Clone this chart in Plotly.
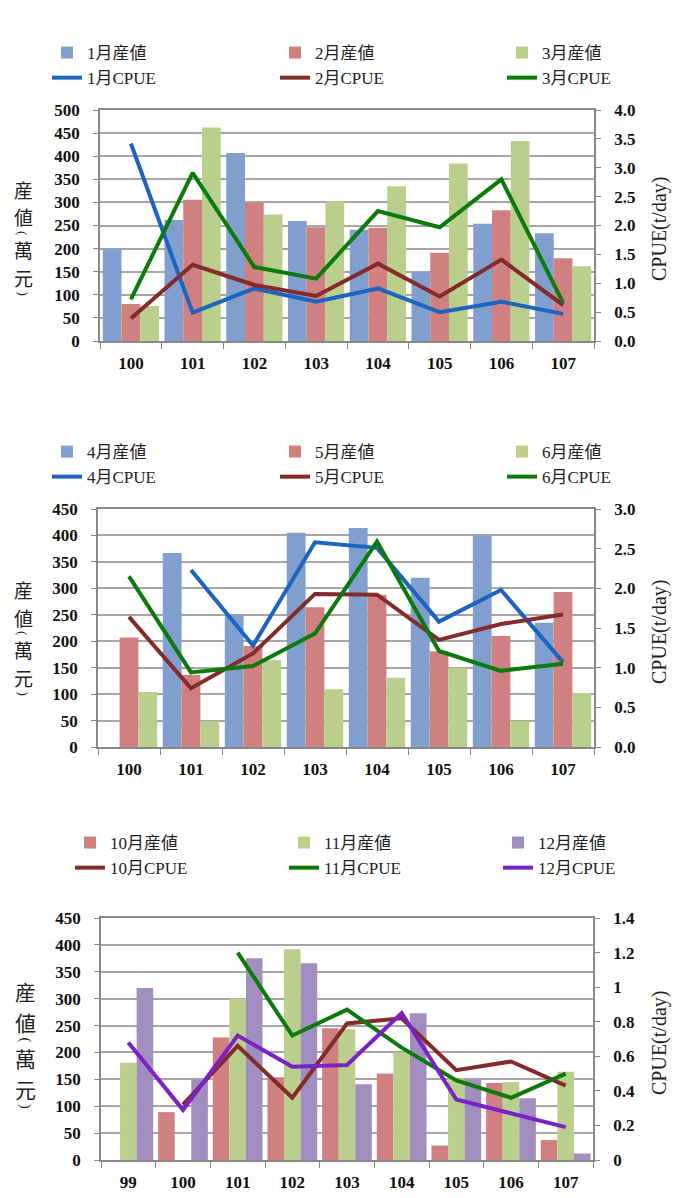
import plotly.graph_objects as go

# ---------------- data ----------------
years_a = ['100', '101', '102', '103', '104', '105', '106', '107']
years_c = ['99', '100', '101', '102', '103', '104', '105', '106', '107']

rev_jan = [200, 262, 407, 260, 241, 150, 254, 233]
rev_feb = [80, 306, 300, 246, 245, 191, 283, 179]
rev_mar = [76, 462, 274, 302, 335, 384, 433, 162]
cpue_jan = [3.42, 0.49, 0.91, 0.68, 0.91, 0.50, 0.68, 0.47]
cpue_feb = [0.39, 1.32, 0.97, 0.78, 1.34, 0.77, 1.41, 0.62]
cpue_mar = [0.72, 2.91, 1.28, 1.08, 2.25, 1.97, 2.80, 0.66]

rev_apr = [None, 367, 250, 405, 414, 320, 400, 235]
rev_may = [207, 136, 191, 264, 288, 181, 210, 293]
rev_jun = [104, 49, 164, 109, 131, 150, 49, 102]
cpue_apr = [None, 2.23, 1.28, 2.58, 2.51, 1.58, 1.98, 1.07]
cpue_may = [1.64, 0.74, 1.18, 1.93, 1.92, 1.35, 1.55, 1.67]
cpue_jun = [2.15, 0.94, 1.02, 1.43, 2.59, 1.21, 0.96, 1.05]

rev_oct = [None, 89, 228, 154, 245, 161, 27, 143, 37]
rev_nov = [181, None, 300, 392, 243, 200, 151, 145, 164]
rev_dec = [320, 150, 375, 366, 141, 273, 150, 115, 12]
cpue_oct = [None, 0.32, 0.66, 0.36, 0.79, 0.82, 0.52, 0.57, 0.43]
cpue_nov = [None, None, 1.20, 0.72, 0.87, 0.65, 0.46, 0.36, 0.50]
cpue_dec = [0.68, 0.29, 0.72, 0.54, 0.55, 0.85, 0.35, 0.27, 0.19]

# ---------------- style ----------------
W, H = 680, 1198
SERIF = "Liberation Serif, Times New Roman, Noto Sans CJK TC, serif"
CJK = "Noto Sans CJK TC, Noto Sans CJK JP, sans-serif"
BAR_BLUE, BAR_RED, BAR_GREEN, BAR_PURPLE = '#809FCF', '#D08080', '#BACF8B', '#A28EBE'
LN_BLUE, LN_RED, LN_GREEN, LN_PURPLE = '#1C64C0', '#832A2A', '#0B7A0B', '#7A22C4'


def py(p):  # pixel y -> paper y
    return 1 - p / H


def px(p):
    return p / W


fig = go.Figure()

# legend column positions (left px) and top of legend block (px) per panel
leg_cols = [[47, 275, 502], [47, 275, 502], [70, 284, 498]]
leg_tops = [35, 434, 825]

panels = [
    dict(x='x', y='y', y2='y4', cats=years_a,
         bars=[('1月産値', rev_jan, BAR_BLUE), ('2月産値', rev_feb, BAR_RED), ('3月産値', rev_mar, BAR_GREEN)],
         lines=[('1月CPUE', cpue_jan, LN_BLUE), ('2月CPUE', cpue_feb, LN_RED), ('3月CPUE', cpue_mar, LN_GREEN)]),
    dict(x='x2', y='y2', y2='y5', cats=years_a,
         bars=[('4月産値', rev_apr, BAR_BLUE), ('5月産値', rev_may, BAR_RED), ('6月産値', rev_jun, BAR_GREEN)],
         lines=[('4月CPUE', cpue_apr, LN_BLUE), ('5月CPUE', cpue_may, LN_RED), ('6月CPUE', cpue_jun, LN_GREEN)]),
    dict(x='x3', y='y3', y2='y6', cats=years_c,
         bars=[('10月産値', rev_oct, BAR_RED), ('11月産値', rev_nov, BAR_GREEN), ('12月産値', rev_dec, BAR_PURPLE)],
         lines=[('10月CPUE', cpue_oct, LN_RED), ('11月CPUE', cpue_nov, LN_GREEN), ('12月CPUE', cpue_dec, LN_PURPLE)]),
]


def leg_name(i, j):
    k = 3 * i + j + 1
    return 'legend' if k == 1 else 'legend' + str(k)


for i, p in enumerate(panels):
    for j, (name, vals, col) in enumerate(p['bars']):
        fig.add_trace(go.Bar(x=p['cats'], y=vals, name=name, marker=dict(color=col, line=dict(width=0)),
                             xaxis=p['x'], yaxis=p['y'], legend=leg_name(i, j),
                             legendgroup='b%d%d' % (i, j)))
    for j, (name, vals, col) in enumerate(p['lines']):
        fig.add_trace(go.Scatter(x=p['cats'], y=vals, name=name, mode='lines',
                                 line=dict(color=col, width=4), xaxis=p['x'], yaxis=p['y2'],
                                 legend=leg_name(i, j), legendgroup='l%d%d' % (i, j),
                                 connectgaps=False))

tickfont = dict(family=SERIF, size=17, color='#111', weight='bold')
# plot areas in pixels: (left, right, top, bottom)
areas = [(100, 594, 110, 341), (98, 594, 509, 747), (101, 593, 918, 1160)]
left_ranges = [[0, 500], [0, 450], [0, 450]]
right_ranges = [[0, 4], [0, 3], [0, 1.4]]
right_dticks = [0.5, 0.5, 0.2]
right_fmt = ['.1f', '.1f', '']

layout = dict(
    width=W, height=H, margin=dict(l=0, r=0, t=0, b=0, autoexpand=False),
    paper_bgcolor='white', plot_bgcolor='white',
    barmode='group', bargap=0.09, bargroupgap=0,
    showlegend=True, hovermode=False,
)

for i, (l, r, t, b) in enumerate(areas):
    n = '' if i == 0 else str(i + 1)
    layout['xaxis' + n] = dict(
        domain=[px(l), px(r)], anchor='y' + n, type='category', tickson='boundaries',
        ticks='outside', ticklen=6, tickcolor='#888', showline=True, linecolor='#888',
        linewidth=1.5, mirror=True, showgrid=False, tickfont=tickfont, ticklabelstandoff=6,
        fixedrange=True, automargin=False)
    layout['yaxis' + n] = dict(
        domain=[py(b), py(t)], anchor='x' + n, range=left_ranges[i], dtick=50, ticks='outside',
        ticklen=5, tickcolor='#888', showline=True, linecolor='#888', linewidth=1.5, showgrid=True,
        gridcolor='#A6A6A6', gridwidth=1.5, tickfont=tickfont, ticklabelstandoff=10,
        zeroline=False, fixedrange=True, automargin=False)
    layout['yaxis' + str(i + 4)] = dict(
        overlaying='y' + n, anchor='x' + n, side='right', range=right_ranges[i],
        dtick=right_dticks[i], tickformat=right_fmt[i], ticks='outside', ticklen=5,
        tickcolor='#888', showline=True, linecolor='#888', linewidth=1.5, showgrid=False,
        tickfont=tickfont, ticklabelstandoff=10, zeroline=False, fixedrange=True, automargin=False)

leg_common = dict(orientation='v', xanchor='left', yanchor='top', traceorder='normal',
                  font=dict(family=SERIF, size=17, color='#222'), bgcolor='rgba(0,0,0,0)',
                  itemwidth=30, tracegroupgap=2)
for i in range(3):
    for j in range(3):
        layout[leg_name(i, j)] = dict(leg_common, x=px(leg_cols[i][j]), y=py(leg_tops[i]))

annotations = []
# vertical left titles: (center x, cjk font size, paren size, [(char, center y)])
vt_specs = [
    (23, 19, 13, [('産', 189), ('値', 217), ('(', 233), ('萬', 249.5), ('元', 277.5), (')', 293.5)]),
    (23, 19, 13, [('産', 589), ('値', 617), ('(', 633), ('萬', 649.5), ('元', 677.5), (')', 693.5)]),
    (25, 21, 14, [('産', 991), ('値', 1022), ('(', 1039.5), ('萬', 1057.5), ('元', 1088.5), (')', 1106)]),
]
for xc, fs, ps, chars in vt_specs:
    for ch, yc in chars:
        if ch in '()':
            annotations.append(dict(text=ch, x=px(xc), y=py(yc), xref='paper', yref='paper',
                                    showarrow=False, xanchor='center', yanchor='middle', textangle=90,
                                    borderpad=0, font=dict(family=SERIF, size=ps, color='#222')))
        else:
            annotations.append(dict(text=ch, x=px(xc), y=py(yc), xref='paper', yref='paper',
                                    showarrow=False, xanchor='center', yanchor='middle', borderpad=0,
                                    font=dict(family=CJK, size=fs, color='#222')))
for yc in [229, 632, 1043]:
    annotations.append(dict(text='CPUE(t/day)', x=px(659), y=py(yc), xref='paper', yref='paper',
                            showarrow=False, textangle=-90, xanchor='center', yanchor='middle',
                            font=dict(family=SERIF, size=20, color='#222')))
layout['annotations'] = annotations

fig.update_layout(**layout)
fig.write_html("out.html", config={'displayModeBar': False},
               post_script="document.body.style.margin='0';document.body.style.overflow='hidden';")
